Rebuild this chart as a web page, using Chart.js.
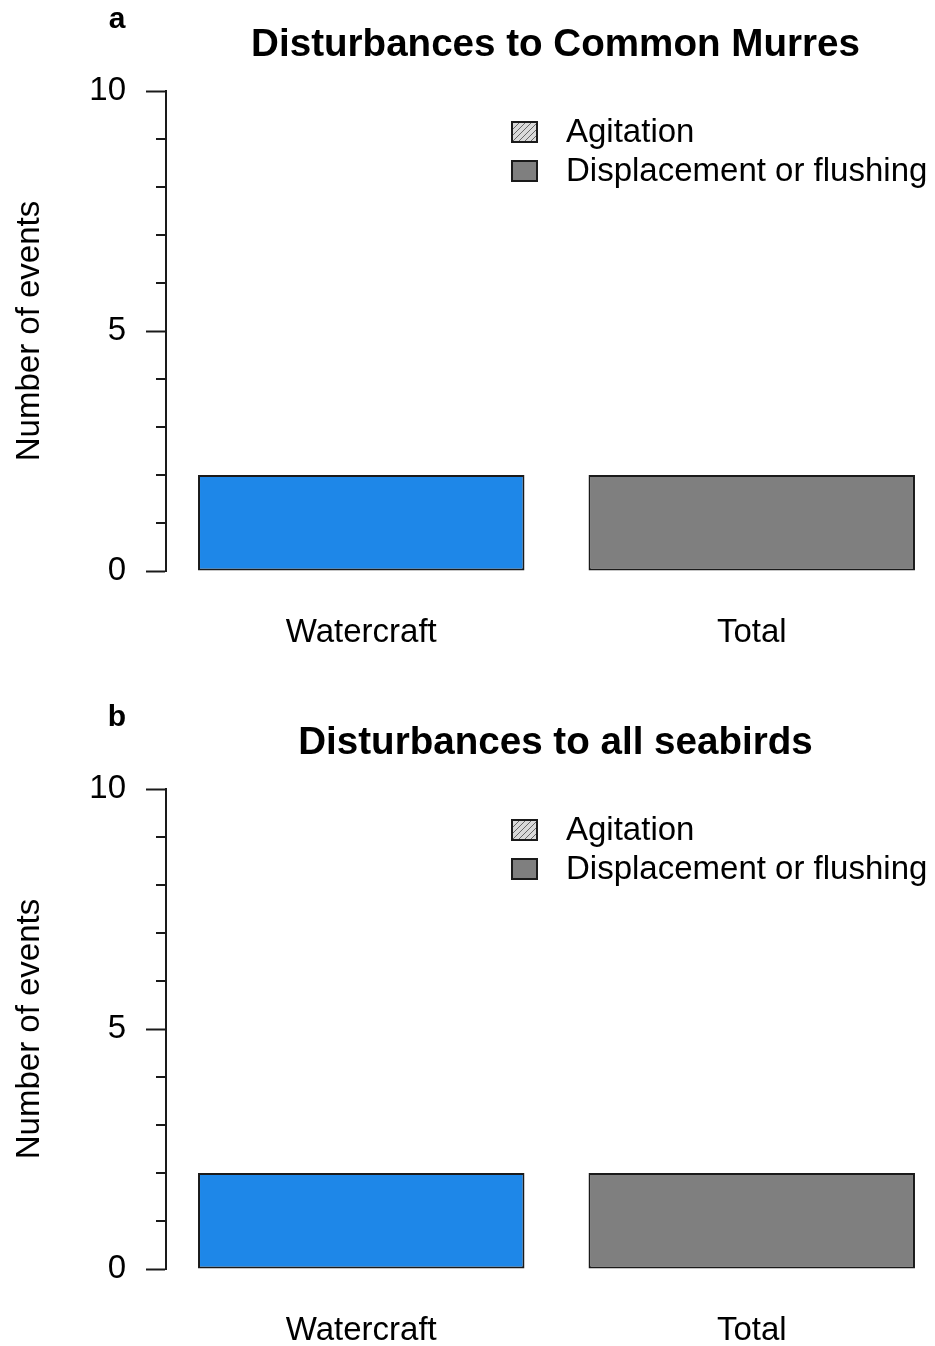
<!DOCTYPE html>
<html>
<head>
<meta charset="utf-8">
<script src="https://cdn.jsdelivr.net/npm/chart.js@4.4.1/dist/chart.umd.min.js"></script>
<style>
  html, body { margin: 0; padding: 0; background: #ffffff; overflow: hidden; width: 935px; height: 1346px; }
  .panel { position: absolute; left: 0; }
  canvas { display: block; }
</style>
</head>
<body>
<div class="panel" style="top:0px"><canvas id="panelA" width="947" height="698"></canvas></div>
<div class="panel" style="top:698px"><canvas id="panelB" width="947" height="648"></canvas></div>
<script>
// Disturbance events by source, split by response type
const categories = ['Watercraft', 'Total'];
const seriesNames = ['Agitation', 'Displacement or flushing'];

const murresAgitation = [0, 0];
const murresDisplacement = [2, 2];

const seabirdsAgitation = [0, 0];
const seabirdsDisplacement = [2, 2];

const yMin = 0;
const yMax = 10;
const yMajorStep = 5;
const yMinorStep = 1;

// styling
const FONT = '"Liberation Sans", Arial, Helvetica, sans-serif';
const TEXT_SIZE = 33;
const AXIS_COLOR = '#1a1a1a';
const BAR_COLORS = ['#1E87E8', '#7F7F7F'];
const DISPLACEMENT_KEY = '#7F7F7F';
const BAR_BORDER = '#1a1a1a';

function hatchPattern() {
  const c = document.createElement('canvas');
  c.width = 6; c.height = 6;
  const g = c.getContext('2d');
  g.fillStyle = '#d9d9d9';
  g.fillRect(0, 0, 6, 6);
  g.strokeStyle = '#666666';
  g.lineWidth = 1;
  g.beginPath();
  g.moveTo(0, 6); g.lineTo(6, 0);
  g.moveTo(-1, 1); g.lineTo(1, -1);
  g.moveTo(5, 7); g.lineTo(7, 5);
  g.stroke();
  const tmp = document.createElement('canvas').getContext('2d');
  return tmp.createPattern(c, 'repeat');
}
const AGITATION_FILL = hatchPattern();

// Draws minor y ticks, panel letter, title and the in-plot key
const panelDecor = {
  id: 'panelDecor',
  afterDraw(chart, args, opts) {
    const ctx = chart.ctx;
    const ys = chart.scales.y;
    const left = chart.chartArea.left;
    ctx.save();

    ctx.strokeStyle = AXIS_COLOR;
    ctx.lineWidth = 2;
    ys.ticks.forEach(t => {
      if (t.value % yMajorStep !== 0) {
        const py = Math.round(ys.getPixelForValue(t.value));
        ctx.beginPath();
        ctx.moveTo(left - 10, py);
        ctx.lineTo(left, py);
        ctx.stroke();
      }
    });

    ctx.fillStyle = '#000000';
    ctx.textBaseline = 'alphabetic';
    ctx.textAlign = 'center';
    ctx.font = 'bold 30px ' + FONT;
    ctx.fillText(opts.letter, 117, 28);
    ctx.font = 'bold 38.6px ' + FONT;
    ctx.fillText(opts.title, 555.5, 56);

    // key
    ctx.textAlign = 'left';
    ctx.font = TEXT_SIZE + 'px ' + FONT;
    chart.data.datasets.forEach((ds, i) => {
      const top = 122 + i * 39;
      ctx.fillStyle = ds.keyFill;
      ctx.fillRect(512, top, 25, 20);
      ctx.strokeStyle = BAR_BORDER;
      ctx.lineWidth = 2;
      ctx.strokeRect(512, top, 25, 20);
      ctx.fillStyle = '#000000';
      ctx.fillText(ds.label, 566, top + 20);
    });
    ctx.restore();
  }
};

function makePanel(id, letter, title, agitation, displacement) {
  const canvas = document.getElementById(id);
  const h = canvas.height;
  return new Chart(canvas, {
    type: 'bar',
    data: {
      labels: categories,
      datasets: [
        {
          label: seriesNames[0],
          data: agitation,
          backgroundColor: AGITATION_FILL,
          keyFill: AGITATION_FILL,
          borderWidth: 0,
          categoryPercentage: 1,
          barPercentage: 0.836
        },
        {
          label: seriesNames[1],
          data: displacement,
          backgroundColor: BAR_COLORS,
          keyFill: DISPLACEMENT_KEY,
          borderColor: BAR_BORDER,
          borderWidth: 2,
          borderSkipped: false,
          categoryPercentage: 1,
          barPercentage: 0.836
        }
      ]
    },
    options: {
      responsive: false,
      animation: false,
      devicePixelRatio: 1,
      layout: { padding: { top: 91, left: 0, right: 0, bottom: 0 } },
      plugins: {
        legend: { display: false },
        tooltip: { enabled: false },
        panelDecor: { letter: letter, title: title }
      },
      scales: {
        x: {
          stacked: true,
          afterFit(s) { s.height = h - 571; },
          grid: { display: false, drawTicks: false },
          border: { display: false },
          ticks: { padding: 42, color: '#000000', font: { family: FONT, size: TEXT_SIZE } }
        },
        y: {
          stacked: true,
          min: yMin,
          max: yMax,
          afterFit(s) { s.width = 166; },
          ticks: {
            stepSize: yMinorStep,
            autoSkip: false,
            padding: 20,
            color: '#000000',
            font: { family: FONT, size: TEXT_SIZE },
            callback: v => (v % yMajorStep === 0 ? String(v) : '')
          },
          grid: {
            drawOnChartArea: false,
            tickLength: 20,
            tickWidth: 2,
            tickColor: c => (c.tick && c.tick.value % yMajorStep === 0 ? AXIS_COLOR : 'rgba(0,0,0,0)')
          },
          border: { display: true, color: AXIS_COLOR, width: 2 },
          title: {
            display: true,
            text: 'Number of events',
            color: '#000000',
            font: { family: FONT, size: TEXT_SIZE },
            padding: { top: 10, bottom: 0 }
          }
        }
      }
    },
    plugins: [panelDecor]
  });
}

makePanel('panelA', 'a', 'Disturbances to Common Murres', murresAgitation, murresDisplacement);
makePanel('panelB', 'b', 'Disturbances to all seabirds', seabirdsAgitation, seabirdsDisplacement);
</script>
</body>
</html>
